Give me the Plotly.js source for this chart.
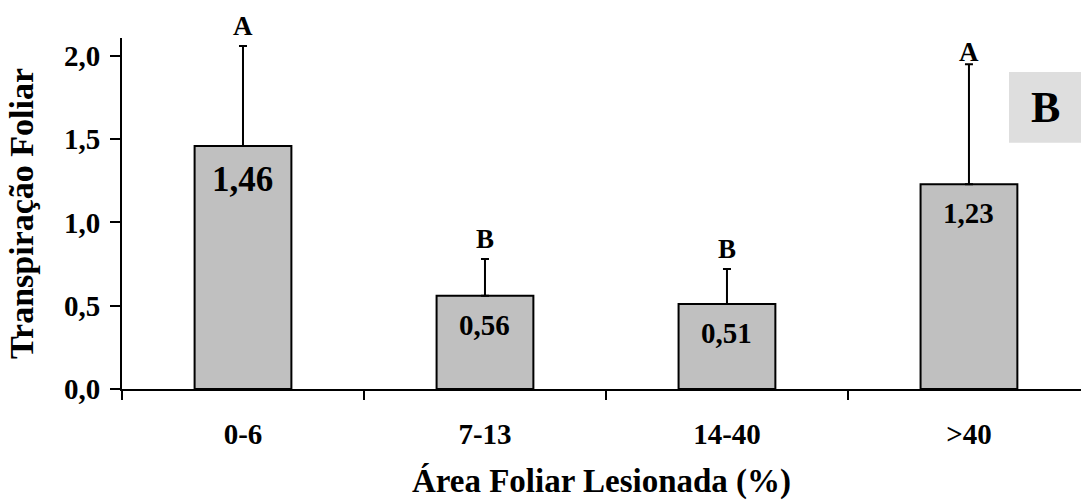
<!DOCTYPE html>
<html>
<head>
<meta charset="utf-8">
<script src="https://cdn.plot.ly/plotly-3.0.1.min.js"></script>
<style>html,body{margin:0;padding:0;background:#fff;}#chart{width:1081px;height:504px;}</style>
</head>
<body>
<div id="chart"></div>
<script>
const categories = ["0-6", "7-13", "14-40", ">40"];
const values = [1.46, 0.56, 0.51, 1.23];
const errorsUp = [0.60, 0.22, 0.21, 0.72];
const valueLabels = ["1,46", "0,56", "0,51", "1,23"];
const groupLetters = ["A", "B", "B", "A"];
const yTickVals = [0, 0.5, 1.0, 1.5, 2.0];
const yTickText = ["0,0", "0,5", "1,0", "1,5", "2,0"];
const panelLabel = "B";

const FONT = "Liberation Serif, Times New Roman, serif";

const trace = {
  type: "bar",
  x: categories,
  y: values,
  marker: {color: "#c0c0c0", line: {color: "#000", width: 2}},
  error_y: {type: "data", array: errorsUp, arrayminus: errorsUp.map(() => 0), symmetric: false,
            color: "#000", thickness: 2, width: 4},
  hoverinfo: "none"
};

const annotations = [];
categories.forEach((c, i) => {
  annotations.push({
    x: c, y: values[i], xref: "x", yref: "y", text: valueLabels[i], showarrow: false,
    yanchor: "top", yshift: i === 0 ? -12 : -11,
    font: {family: FONT, size: i === 0 ? 35 : 29, color: "#000", weight: "bold"}
  });
  annotations.push({
    x: c, y: values[i] + errorsUp[i], xref: "x", yref: "y", text: groupLetters[i], showarrow: false,
    yanchor: "bottom", yshift: i === 3 ? -5 : 3,
    font: {family: FONT, size: 27, color: "#000", weight: "bold"}
  });
});
annotations.push({
  x: (1045 - 122) / 959, y: (504 - 114.5 - 108) / 351.5, xref: "paper", yref: "paper",
  text: panelLabel, showarrow: false, xanchor: "center", yanchor: "middle",
  font: {family: FONT, size: 44, color: "#000", weight: "bold"}
});

const layout = {
  width: 1081, height: 504,
  margin: {l: 122, r: 0, t: 38, b: 114.5},
  paper_bgcolor: "#fff", plot_bgcolor: "#fff",
  showlegend: false,
  bargap: 0.6,
  font: {family: FONT, color: "#000", weight: "bold"},
  xaxis: {
    type: "category", range: [-0.5, 3.463],
    showline: true, linecolor: "#000", linewidth: 2,
    ticks: "outside", tickson: "boundaries", ticklen: 9, tickwidth: 1.5, tickcolor: "#000",
    ticklabelstandoff: 18,
    tickfont: {family: FONT, size: 29, color: "#000", weight: "bold"},
    showgrid: false, zeroline: false, fixedrange: true,
    title: {text: "Área Foliar Lesionada (%)", standoff: 20,
            font: {family: FONT, size: 33, color: "#000", weight: "bold"}}
  },
  yaxis: {
    range: [0, 2.108],
    showline: true, linecolor: "#000", linewidth: 2,
    ticks: "outside", ticklen: 10, tickwidth: 2, tickcolor: "#000",
    tickvals: yTickVals, ticktext: yTickText,
    tickfont: {family: FONT, size: 29, color: "#000", weight: "bold"},
    ticklabelstandoff: 4,
    showgrid: false, zeroline: false, fixedrange: true,
    title: {text: "Transpiração Foliar", standoff: 20,
            font: {family: FONT, size: 34, color: "#000", weight: "bold"}}
  },
  shapes: [{
    type: "rect", xref: "paper", yref: "paper", layer: "below",
    x0: (1009 - 122) / 959, x1: 1.0, y0: (504 - 114.5 - 143) / 351.5, y1: (504 - 114.5 - 72) / 351.5,
    fillcolor: "#dedede", line: {width: 0}
  }],
  annotations: annotations
};

Plotly.newPlot("chart", [trace], layout, {displayModeBar: false, staticPlot: true});
</script>
</body>
</html>
